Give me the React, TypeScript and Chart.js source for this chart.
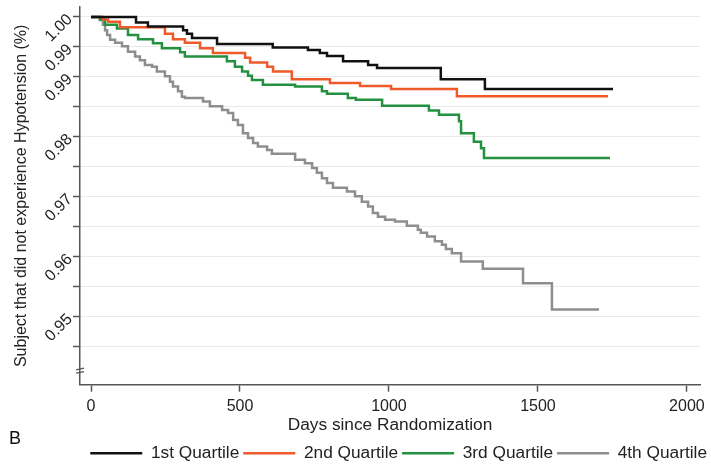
import React, { useEffect, useRef } from 'react';
import { Chart, registerables } from 'chart.js';

Chart.register(...registerables);

const seriesNames = ['1st Quartile', '2nd Quartile', '3rd Quartile', '4th Quartile'];
const seriesColors = ['#111111', '#EE5A2A', '#23913F', '#8E8E8E'];

const q1Days = [0, 151, 191, 309, 322, 339, 423, 610, 728, 768, 792, 846, 930, 960, 1174, 1322, 1752];
const q1Surv = [1, 0.9991, 0.9984, 0.9978, 0.9972, 0.9965, 0.9955, 0.9949, 0.9945, 0.994, 0.9935, 0.9926, 0.992, 0.9915, 0.9896, 0.988, 0.988];

const q2Days = [0, 40, 57, 97, 248, 275, 315, 366, 409, 517, 534, 591, 611, 674, 802, 903, 1007, 1228, 1735];
const q2Surv = [1, 0.9996, 0.9992, 0.9983, 0.9972, 0.9963, 0.9957, 0.9948, 0.994, 0.9932, 0.9924, 0.9917, 0.9909, 0.9896, 0.989, 0.9885, 0.988, 0.9868, 0.9868];

const q3Days = [0, 30, 47, 87, 124, 158, 208, 238, 299, 315, 456, 483, 507, 527, 540, 577, 685, 775, 792, 862, 889, 977, 1134, 1168, 1235, 1242, 1285, 1309, 1319, 1742];
const q3Surv = [1, 0.9996, 0.9987, 0.9981, 0.997, 0.9963, 0.9956, 0.9948, 0.9941, 0.9934, 0.9926, 0.9917, 0.9909, 0.9902, 0.9895, 0.9887, 0.9884, 0.9876, 0.9872, 0.9865, 0.9862, 0.9852, 0.9844, 0.9837, 0.9826, 0.9806, 0.9792, 0.9781, 0.9765, 0.9765];

const q4Days = [0, 30, 40, 47, 54, 64, 81, 104, 124, 148, 164, 181, 205, 221, 248, 265, 275, 292, 305, 315, 376, 399, 440, 460, 477, 493, 510, 527, 544, 560, 591, 607, 685, 718, 742, 758, 775, 792, 812, 859, 886, 909, 930, 946, 963, 987, 1020, 1060, 1097, 1107, 1128, 1154, 1178, 1191, 1211, 1242, 1315, 1450, 1547, 1705];
const q4Surv = [1, 0.9995, 0.9987, 0.9978, 0.997, 0.9962, 0.9957, 0.9951, 0.9942, 0.9934, 0.9928, 0.992, 0.9917, 0.9909, 0.9901, 0.9892, 0.9884, 0.9876, 0.9867, 0.9865, 0.9859, 0.9851, 0.9845, 0.984, 0.9828, 0.982, 0.9806, 0.9798, 0.979, 0.9784, 0.9778, 0.9772, 0.9762, 0.9756, 0.9748, 0.974, 0.9731, 0.9723, 0.9715, 0.9709, 0.9701, 0.9692, 0.9684, 0.9673, 0.9667, 0.9662, 0.9659, 0.9652, 0.9645, 0.964, 0.9634, 0.9626, 0.962, 0.9613, 0.9606, 0.9592, 0.958, 0.9556, 0.9512, 0.9512];

const xTickValues = [0, 500, 1000, 1500, 2000];
const xTickLabels = ['0', '500', '1000', '1500', '2000'];
const yTickValues = [1.0, 0.995, 0.99, 0.985, 0.98, 0.975, 0.97, 0.965, 0.96, 0.955, 0.95, 0.945];
const yTickLabels = ['1.00', '0.99', '0.99', '', '0.98', '', '0.97', '', '0.96', '', '0.95', ''];

const xTitle = 'Days since Randomization';
const yTitle = 'Subject that did not experience Hypotension (%)';
const panelLabel = 'B';

const FONT = '"Liberation Sans", Arial, Helvetica, sans-serif';
const AXIS = '#555555';
const TEXT = '#222222';

const extrasPlugin = {
  id: 'extras',
  afterDraw(chart: any) {
    const ctx = chart.ctx;
    const { left, bottom } = chart.chartArea;
    ctx.save();
    ctx.strokeStyle = AXIS;
    ctx.lineWidth = 1.2;
    for (const dy of [15.7, 12.3]) {
      ctx.beginPath();
      ctx.moveTo(left - 4, bottom - dy + 0.8);
      ctx.lineTo(left + 4, bottom - dy - 0.8);
      ctx.stroke();
    }
    ctx.fillStyle = '#111111';
    ctx.font = '18px ' + FONT;
    ctx.textBaseline = 'alphabetic';
    ctx.textAlign = 'left';
    ctx.fillText(panelLabel, 9, 444);
    ctx.restore();
  },
};

export default function App() {
  const ref = useRef<HTMLCanvasElement>(null);

  useEffect(() => {
    if (!ref.current) return;
    const all = [
      [q1Days, q1Surv],
      [q2Days, q2Surv],
      [q3Days, q3Surv],
      [q4Days, q4Surv],
    ];
    const datasets = all.map(([d, s], i) => ({
      label: seriesNames[i],
      data: d.map((x, j) => ({ x, y: s[j] })),
      borderColor: seriesColors[i],
      backgroundColor: seriesColors[i],
      borderWidth: 2.5,
      stepped: true as any,
      pointRadius: 0,
      fill: false,
      tension: 0,
    }));

    const chart = new Chart(ref.current, {
      type: 'line',
      data: { datasets },
      plugins: [extrasPlugin],
      options: {
        animation: false,
        responsive: false,
        devicePixelRatio: 1,
        layout: { padding: { left: 0, right: 0, top: 0, bottom: -4 } },
        plugins: {
          tooltip: { enabled: false },
          legend: {
            display: true,
            position: 'bottom',
            align: 'end',
            labels: {
              boxWidth: 52,
              boxHeight: 2.5,
              padding: 4,
              color: TEXT,
              font: { family: FONT, size: 17.3 },
              generateLabels: (c: any) =>
                c.data.datasets.map((ds: any, i: number) => ({
                  text: ds.label,
                  fillStyle: ds.borderColor,
                  strokeStyle: ds.borderColor,
                  lineWidth: 0,
                  hidden: false,
                  datasetIndex: i,
                  fontColor: TEXT,
                })),
            },
          },
        },
        scales: {
          x: {
            type: 'linear',
            min: -37,
            max: 2044,
            afterBuildTicks: (s: any) => {
              s.ticks = xTickValues.map((v) => ({ value: v }));
            },
            afterFit: (s: any) => {
              s.height = 56;
              s.paddingLeft = 0;
              s.paddingRight = 11;
            },
            ticks: {
              autoSkip: false,
              maxRotation: 0,
              minRotation: 0,
              padding: 5,
              color: TEXT,
              font: { family: FONT, size: 16 },
              callback: (_v: any, i: number) => xTickLabels[i],
            },
            grid: {
              drawOnChartArea: false,
              drawTicks: true,
              tickLength: 7,
              tickColor: AXIS,
              tickWidth: 1.5,
            },
            border: { display: true, color: AXIS, width: 1.5 },
            title: {
              display: true,
              text: xTitle,
              color: TEXT,
              font: { family: FONT, size: 17.3 },
              padding: { top: 0, bottom: 5.3 },
            },
          },
          y: {
            type: 'linear',
            min: 1 - 368 / 6000,
            max: 1 + 10 / 6000,
            afterBuildTicks: (s: any) => {
              s.ticks = yTickValues.map((v) => ({ value: v }));
            },
            afterFit: (s: any) => {
              s.width = 80;
              s.paddingTop = 7;
              s.paddingBottom = 0;
            },
            ticks: {
              autoSkip: false,
              minRotation: 45,
              maxRotation: 45,
              padding: 3,
              color: TEXT,
              font: { family: FONT, size: 16 },
              callback: (_v: any, i: number) => yTickLabels[i],
            },
            grid: {
              drawOnChartArea: true,
              drawTicks: true,
              tickLength: 7,
              color: '#E9E9E9',
              lineWidth: 1,
              tickColor: AXIS,
              tickWidth: 1.5,
            },
            border: { display: true, color: AXIS, width: 1.5 },
            title: {
              display: true,
              text: yTitle,
              color: TEXT,
              font: { family: FONT, size: 16 },
              padding: { top: 12, bottom: 0 },
            },
          },
        },
      } as any,
    });
    return () => chart.destroy();
  }, []);

  return (
    <div style={{ position: 'fixed', left: 0, top: 0, width: 711, height: 468, background: '#ffffff' }}>
      <canvas ref={ref} width={711} height={468} style={{ display: 'block' }} />
    </div>
  );
}
